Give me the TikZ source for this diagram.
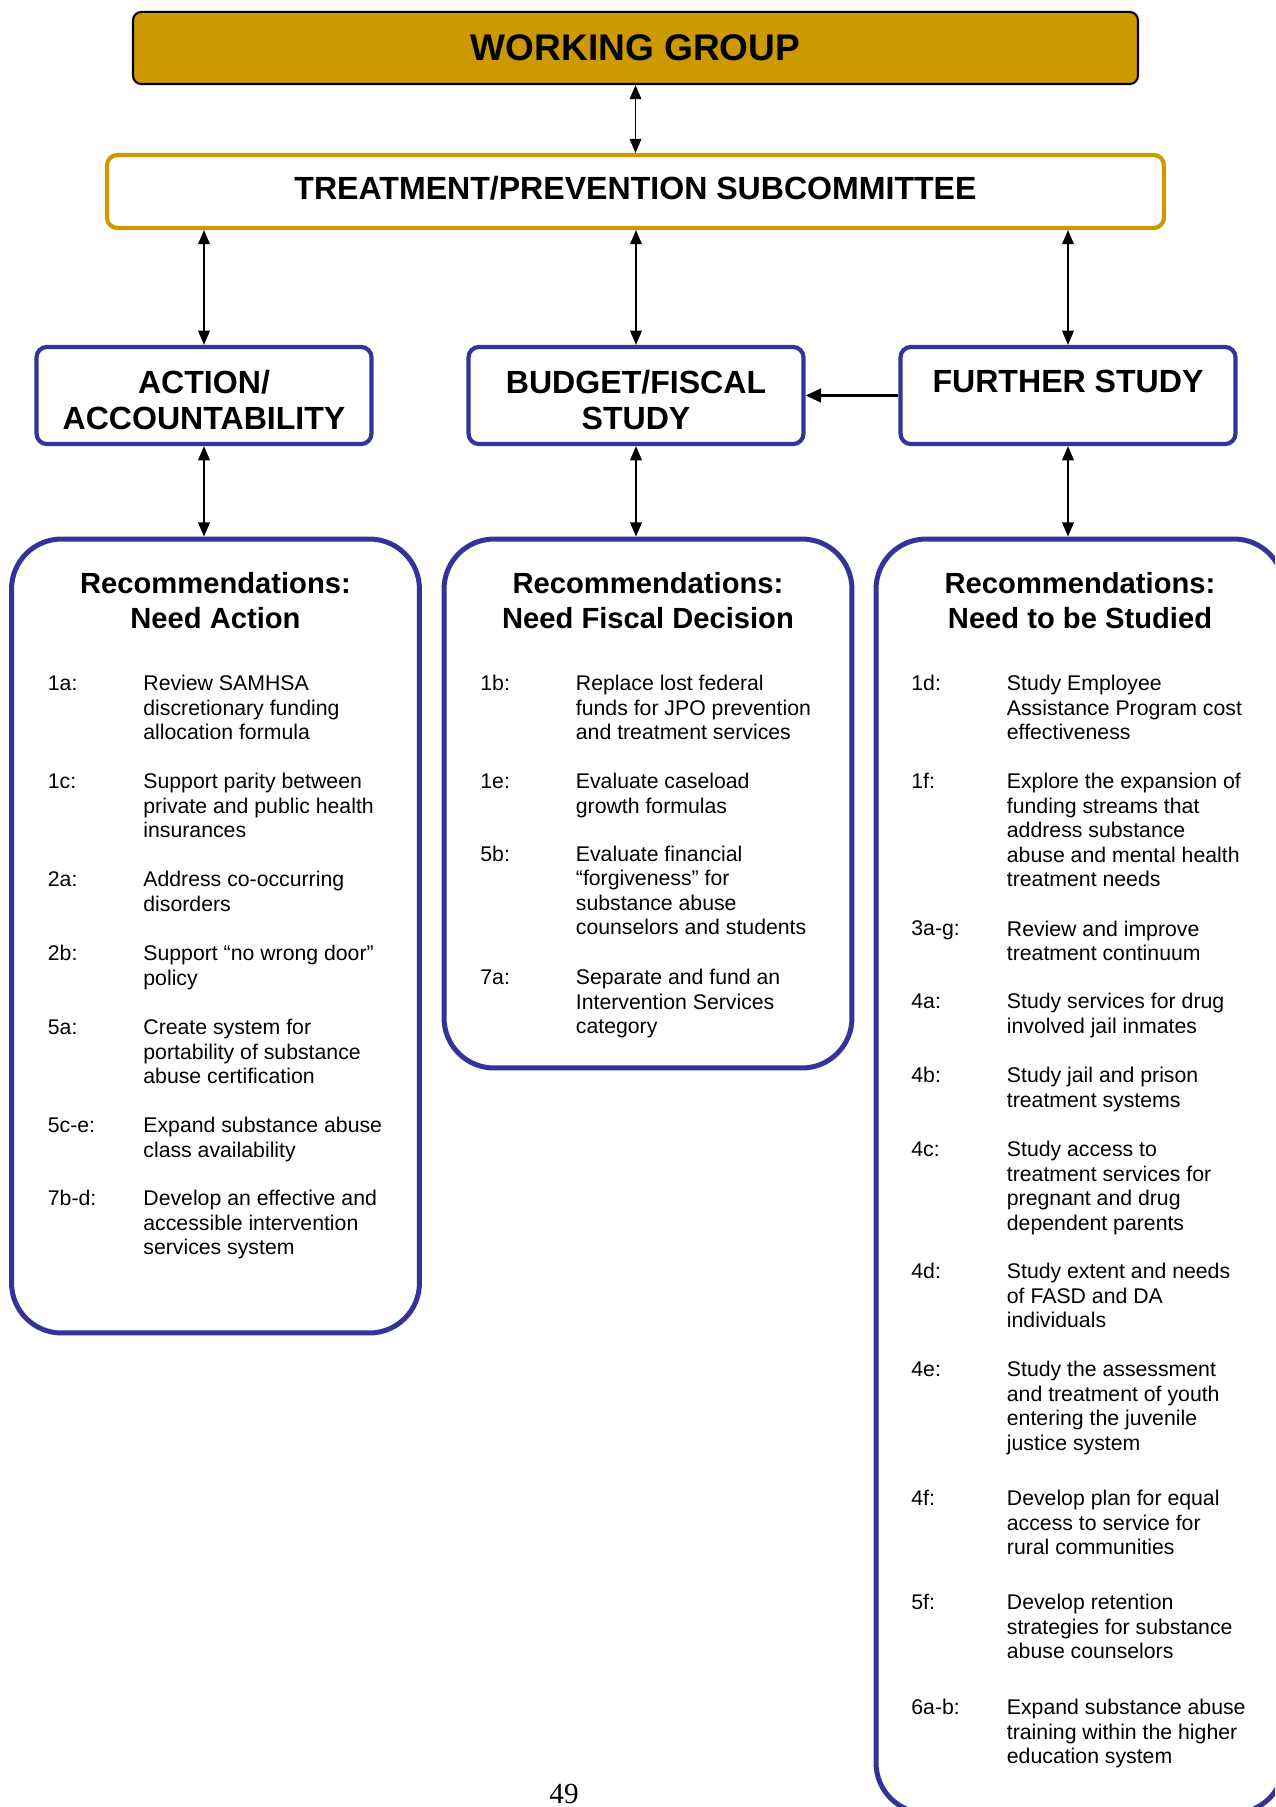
\documentclass[tikz,border=0pt]{standalone}
\usepackage{fontspec}
\setmainfont{Liberation Sans}
\newfontfamily\pagefont{Liberation Serif}
\usetikzlibrary{arrows.meta,positioning}
\definecolor{wggold}{RGB}{204,153,0}
\definecolor{recblue}{RGB}{51,51,153}
\tikzset{
  wgbox/.style={draw=black, line width=1pt, fill=wggold, rounded corners=4pt, minimum width=482.4pt, minimum height=34.6pt, font=\fontsize{17.8}{21}\selectfont\bfseries},
  subbox/.style={draw=wggold, line width=2pt, fill=white, rounded corners=5pt, minimum width=507.4pt, minimum height=35pt, text height=11pt, text depth=3pt, font=\fontsize{15.4}{18}\selectfont\bfseries},
  lvlbox/.style={draw=recblue, line width=2pt, rounded corners=5pt, minimum width=160.8pt, minimum height=46.6pt},
  lvltext/.style={anchor=north, inner sep=0pt, align=center, font=\fontsize{15.4}{17.1}\selectfont\bfseries},
  recbox/.style={draw=recblue, line width=2.4pt, rounded corners=24pt, minimum width=195.8pt},
  rechead/.style={anchor=north, inner sep=0pt, align=center, font=\fontsize{14}{16.8}\selectfont\bfseries},
  itemlab/.style={anchor=north west, inner sep=0pt, font=\fontsize{10.2}{11.76}\selectfont},
  itemtxt/.style={itemlab, align=left},
  link/.style={{Triangle[length=6.8pt,width=5.6pt]}-{Triangle[length=6.8pt,width=5.6pt]}, line width=0.7pt},
  feed/.style={-{Triangle[length=7.4pt,width=6.5pt]}, line width=1.3pt}
}
\begin{document}
\begin{tikzpicture}[x=0.48pt, y=-0.48pt]
\path[use as bounding box, clip] (0,0) rectangle (1275,1807);

\node[wgbox] (wg) at (635.5,48) {WORKING GROUP};
\node[subbox] (sub) at (635.5,191.5) {TREATMENT/PREVENTION SUBCOMMITTEE};

\node[lvlbox] (action) at (204,395.5) {};
\node[lvlbox] (budget) at (636,395.5) {};
\node[lvlbox] (further) at (1068,395.5) {};
\node[lvltext] (actiontext) at (204,370) {ACTION/\\ACCOUNTABILITY};
\node[lvltext] (budgettext) at (636,370) {BUDGET/FISCAL\\STUDY};
\node[lvltext] (furthertext) at (1068,370) {FURTHER STUDY};

\node[recbox, minimum height=381.1pt] (needact) at (215.5,936) {};
\node[recbox, minimum height=253.9pt] (needfisc) at (648,803.5) {};
\node[recbox, minimum height=611.5pt] (needstudy) at (1080,1176) {};

\node[rechead] (acthead) at (215.5,572) {Recommendations:\\Need Action};
\node[rechead] (fischead) at (648,572) {Recommendations:\\Need Fiscal Decision};
\node[rechead] (studyhead) at (1080,572) {Recommendations:\\Need to be Studied};

\foreach \y/\lab/\txt [count=\i] in {
  690/1a:/{Review SAMHSA\\discretionary funding\\allocation formula},
  788/1c:/{Support parity between\\private and public health\\insurances},
  886/2a:/{Address co-occurring\\disorders},
  960/2b:/{Support “no wrong door”\\policy},
  1034/5a:/{Create system for\\portability of substance\\abuse certification},
  1132/5c-e:/{Expand substance abuse\\class availability},
  1205/7b-d:/{Develop an effective and\\accessible intervention\\services system}}{
  \node[itemlab] (actlab\i) at (47.5,\y-15) {\lab};
  \node[itemtxt] (acttxt\i) at (143,\y-15) {\txt};
}

\foreach \y/\lab/\txt [count=\i] in {
  690/1b:/{Replace lost federal\\funds for JPO prevention\\and treatment services},
  788/1e:/{Evaluate caseload\\growth formulas},
  860.5/5b:/{Evaluate financial\\“forgiveness” for\\substance abuse\\counselors and students},
  984/7a:/{Separate and fund an\\Intervention Services\\category}}{
  \node[itemlab] (fislab\i) at (480,\y-15) {\lab};
  \node[itemtxt] (fistxt\i) at (575.5,\y-15) {\txt};
}

\foreach \y/\lab/\txt [count=\i] in {
  690/1d:/{Study Employee\\Assistance Program cost\\effectiveness},
  788/1f:/{Explore the expansion of\\funding streams that\\address substance\\abuse and mental health\\treatment needs},
  935.5/3a-g:/{Review and improve\\treatment continuum},
  1008/4a:/{Study services for drug\\involved jail inmates},
  1082/4b:/{Study jail and prison\\treatment systems},
  1156/4c:/{Study access to\\treatment services for\\pregnant and drug\\dependent parents},
  1278/4d:/{Study extent and needs\\of FASD and DA\\individuals},
  1376/4e:/{Study the assessment\\and treatment of youth\\entering the juvenile\\justice system},
  1505/4f:/{Develop plan for equal\\access to service for\\rural communities},
  1609/5f:/{Develop retention\\strategies for substance\\abuse counselors},
  1714/6a-b:/{Expand substance abuse\\training within the higher\\education system}}{
  \node[itemlab] (stulab\i) at (911,\y-15) {\lab};
  \node[itemtxt] (stutxt\i) at (1006.5,\y-15) {\txt};
}

\node[anchor=base, inner sep=0pt, font=\pagefont\fontsize{14}{16}\selectfont] (pagenum) at (564,1803) {49};

\draw[link] (wg) -- (sub);
\draw[link] (action.north |- sub.south) -- (action.north);
\draw[link] (budget.north |- sub.south) -- (budget.north);
\draw[link] (further.north |- sub.south) -- (further.north);
\draw[link] (action.south) -- (action.south |- needact.north);
\draw[link] (budget.south) -- (budget.south |- needfisc.north);
\draw[link] (further.south) -- (further.south |- needstudy.north);
\draw[feed] (further) -- (budget);
\end{tikzpicture}
\end{document}
